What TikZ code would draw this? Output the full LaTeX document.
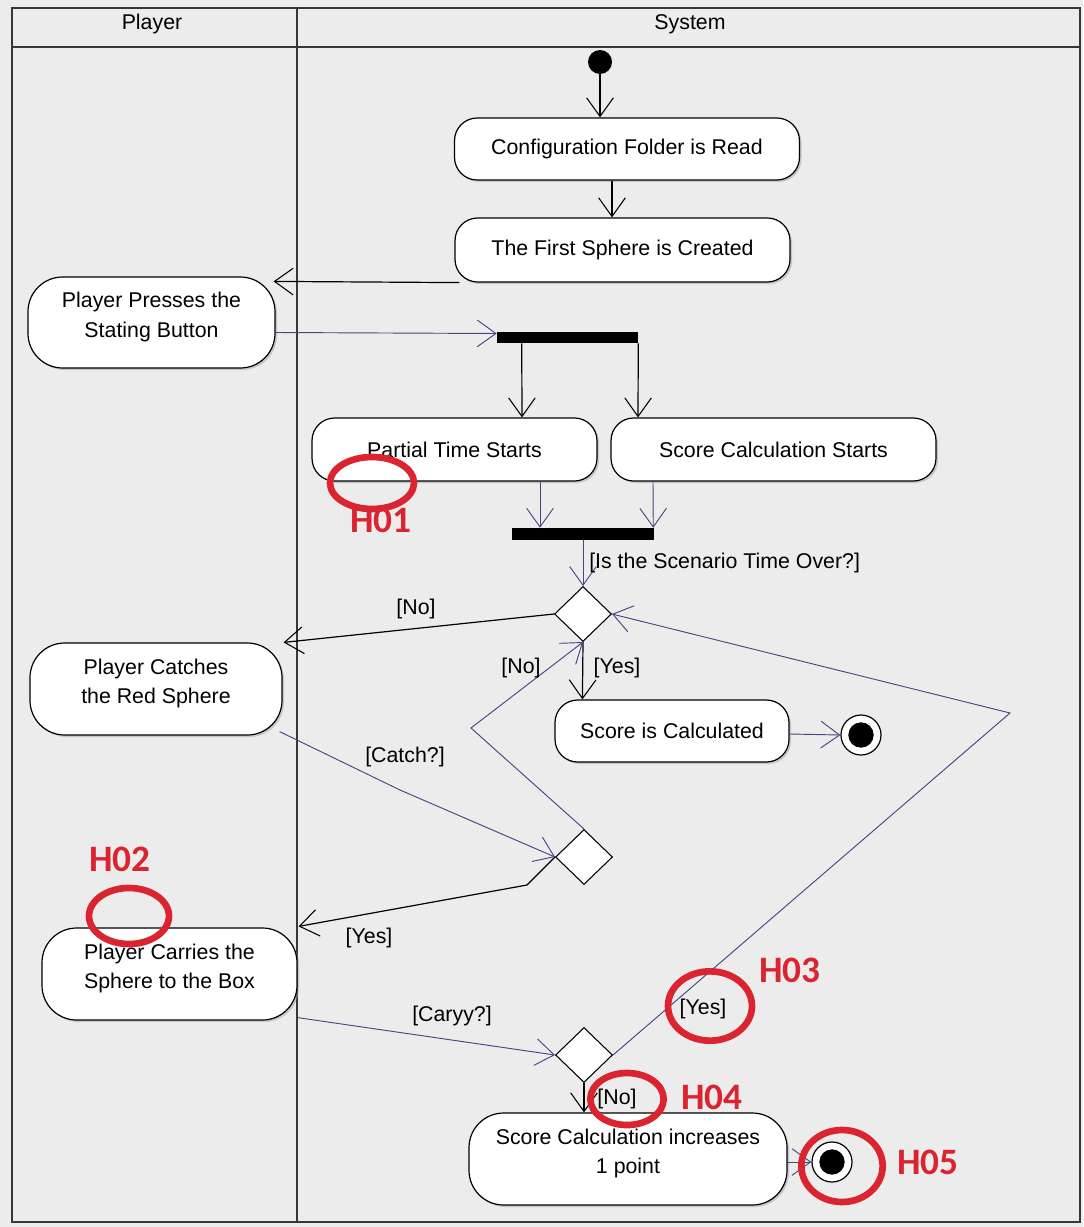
\documentclass[tikz,border=0pt]{standalone}
\usepackage{fontspec}
\setmainfont{Liberation Sans}
\newfontfamily\markfont{Carlito}
\usetikzlibrary{arrows.meta,shapes.geometric,calc,shadows}

\definecolor{lanebg}{RGB}{236,236,236}
\definecolor{laneline}{RGB}{55,55,55}
\definecolor{flowblue}{RGB}{70,70,130}
\definecolor{markred}{RGB}{218,37,48}

\begin{document}
\begin{tikzpicture}[x=0.75pt,y=-0.75pt,
  font=\fontsize{16}{22}\selectfont,
  act/.style={draw=black, line width=0.9pt, fill=white, align=center, inner sep=0pt,
    drop shadow={shadow xshift=1.5pt, shadow yshift=-1.5pt, fill=black!40, opacity=0.45}},
  short/.style={act, rounded corners=17pt},
  tall/.style={act, rounded corners=26pt},
  bar/.style={fill=black, inner sep=0pt},
  dec/.style={diamond, draw=black, line width=0.8pt, fill=white, inner sep=0pt,
    minimum width=42.75pt, minimum height=41.25pt},
  startnode/.style={circle, fill=black, inner sep=0pt, minimum size=18pt},
  endnode/.style={circle, draw=black, line width=0.9pt, fill=white, inner sep=0pt, minimum size=30pt,
    path picture={\fill[black] (path picture bounding box.center) circle (9.5pt);}},
  flowk/.style={draw=black, line width=0.9pt, -{Straight Barb[length=14pt,width=20pt,line width=0.8pt]}},
  flowb/.style={draw=flowblue, line width=0.7pt, -{Straight Barb[length=14pt,width=20pt,line width=0.7pt]}},
  guard/.style={inner sep=0pt},
  ring/.style={ellipse, draw=markred, line width=5pt, inner sep=0pt},
  marktext/.style={text=markred, font=\markfont\bfseries\fontsize{28}{30}\selectfont, inner sep=0pt}
]
\useasboundingbox (0,0) rectangle (1083,1227);
\fill[lanebg] (0,0) rectangle (1083,1227);

% swimlanes
\draw[laneline, line width=1.6pt] (12,8) rectangle (1080,1222);
\draw[laneline, line width=1.6pt] (12,47) -- (1080,47);
\draw[laneline, line width=1.6pt] (297,8) -- (297,1222);
\node (laneplayer) at (152,24) {Player};
\node (lanesystem) at (690,24) {System};

% activities
\node[startnode] (init) at (600,62) {};
\node[short, minimum width=258.75pt, minimum height=46.5pt] (cfg) at (627,149) {Configuration Folder is Read};
\node[short, minimum width=251.25pt, minimum height=48pt] (first) at (622.5,250) {The First Sphere is Created};
\node[tall, minimum width=185.25pt, minimum height=68.25pt] (press) at (151.5,322.5) {Player Presses the\\Stating Button\\[-10.5pt]};
\node[bar, minimum width=105.75pt, minimum height=8.25pt] (fork) at (567.5,337.5) {};
\node[short, minimum width=213.75pt, minimum height=47.25pt] (partial) at (454.5,449.5) {Partial Time Starts};
\node[short, minimum width=243.75pt, minimum height=47.25pt] (scst) at (773.5,449.5) {Score Calculation Starts};
\node[bar, minimum width=106.5pt, minimum height=9pt] (join) at (583,534) {};
\node[dec] (d1) at (583,614) {};
\node[tall, minimum width=189pt, minimum height=69pt] (catches) at (156,689) {Player Catches\\the Red Sphere\\[-10.5pt]};
\node[short, minimum width=175.5pt, minimum height=46.5pt] (scorecalc) at (672,731) {Score is Calculated};
\node[endnode] (end1) at (861,735) {};
\node[dec] (d2) at (584,857) {};
\node[tall, minimum width=191.25pt, minimum height=69pt] (carries) at (169.5,974) {Player Carries the\\Sphere to the Box\\[-10.5pt]};
\node[dec] (d3) at (584,1055) {};
\node[tall, minimum width=238.5pt, minimum height=69pt] (increase) at (628,1159) {Score Calculation increases\\1 point\\[-10.5pt]};
\node[endnode] (end2) at (832,1162) {};

% bend points of the guarded flows
\coordinate (catchbend) at (400,790);
\coordinate (nobend) at (471,728);
\coordinate (yesbend) at (527,885);
\coordinate (loopbend) at (1010,713);

% control flows
\draw[flowk] (init) -- (init |- cfg.north);
\draw[flowk] ($(cfg.south)+(-15,0)$) -- ($(first.north)+(-10.5,0)$);
\draw[flowk] ($(first.south west)+(5,0)$) -- ($(press.north east)+(-2,5)$);
\draw[flowb] ($(press.east)+(0,10)$) -- ($(fork.west)+(0,-4)$);
\draw[flowk] ($(fork.south west)+(25,0)$) -- ($(partial.north)+(67.5,0)$);
\draw[flowk] (fork.south east) -- ($(scst.north)+(-135.5,0)$);
\draw[flowb] ($(partial.south)+(85.5,0)$) -- ($(join.north)+(-43,0)$);
\draw[flowb] ($(scst.south)+(-120.5,0)$) -- ($(join.north east)+(-1,0)$);
\draw[flowb] (join.south) -- (d1.north);
\draw[flowk] (d1.west) -- ($(catches.north east)+(1,0)$);
\draw[flowk] (d1.south) -- ($(scorecalc.north west)+(28,0)$);
\draw[flowb] ($(scorecalc.east)+(0,3)$) -- (end1.west);
\draw[flowb] ($(catches.south east)+(-3,-4)$) -- (catchbend) -- (d2.west);
\draw[flowb] (d2.north) -- (nobend) -- (d1.south);
\draw[flowk] (d2.west) -- (yesbend) -- ($(carries.north east)+(1,-1)$);
\draw[flowb] ($(carries.south east)+(0,-3)$) -- (d3.west);
\draw[flowb] (d3.east) -- (loopbend) -- (d1.east);
\draw[flowk] (d3.south) -- ($(increase.north)+(-44,0)$);
\draw[flowb] ($(increase.east)+(0,3)$) -- (end2.west);

% guards
\node[guard, anchor=west] (gover) at (589,563) {[Is the Scenario Time Over?]};
\node[guard] (gno1) at (416,609) {[No]};
\node[guard] (gyes1) at (617,668) {[Yes]};
\node[guard] (gno2) at (521,668) {[No]};
\node[guard] (gcatch) at (405,757) {[Catch?]};
\node[guard] (gyes2) at (369,938) {[Yes]};
\node[guard] (gcarry) at (452,1016) {[Caryy?]};
\node[guard] (gyes3) at (703,1009) {[Yes]};
\node[guard] (gno3) at (617,1099) {[No]};

% red markers
\node[ring, minimum width=63pt, minimum height=39pt] (h01ring) at (372,483) {};
\node[marktext] (h01) at (381,520) {H01};
\node[ring, minimum width=60pt, minimum height=42pt] (h02ring) at (129,916) {};
\node[marktext] (h02) at (120,859) {H02};
\node[ring, minimum width=63pt, minimum height=52pt] (h03ring) at (710,1006) {};
\node[marktext] (h03) at (790,970) {H03};
\node[ring, minimum width=55pt, minimum height=39pt] (h04ring) at (627,1099) {};
\node[marktext] (h04) at (712,1097) {H04};
\node[ring, minimum width=61pt, minimum height=54pt] (h05ring) at (842,1166) {};
\node[marktext] (h05) at (928,1162) {H05};
\end{tikzpicture}
\end{document}
